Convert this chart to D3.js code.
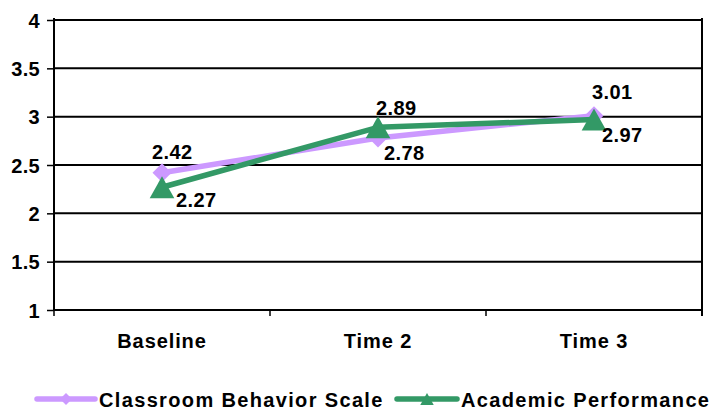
<!DOCTYPE html>
<html>
<head>
<meta charset="utf-8">
<script src="https://cdn.jsdelivr.net/npm/d3@7"></script>
<style>
  html, body { margin: 0; padding: 0; background: #fff; }
  svg { display: block; }
  text { font-family: "Liberation Sans", Arial, sans-serif; font-weight: bold; fill: #000; }
</style>
</head>
<body>
<svg id="chart" width="714" height="411"></svg>
<script>
// Survey waves and mean scores
const categories = ["Baseline", "Time 2", "Time 3"];
const behaviorScale = [2.42, 2.78, 3.01];
const academicPerformance = [2.27, 2.89, 2.97];
const yTicks = [1, 1.5, 2, 2.5, 3, 3.5, 4];
const seriesNames = ["Classroom Behavior Scale", "Academic Performance"];

const svg = d3.select("#chart");
const plotLeft = 54, plotRight = 702, plotTop = 20, plotBottom = 310;

const x = d3.scaleBand().domain(categories).range([plotLeft, plotRight]).padding(0);
const y = d3.scaleLinear().domain([1, 4]).range([plotBottom, plotTop]);
const cx = c => x(c) + x.bandwidth() / 2;

// Horizontal gridlines
svg.append("g").selectAll("line").data(yTicks).join("line")
  .attr("x1", plotLeft).attr("x2", plotRight)
  .attr("y1", d => y(d)).attr("y2", d => y(d))
  .attr("stroke", "#000").attr("stroke-width", 2);

// Left value axis
const yAxis = svg.append("g").attr("transform", `translate(${plotLeft},0)`)
  .call(d3.axisLeft(y).tickValues(yTicks).tickSize(7).tickPadding(7).tickFormat(d3.format("")));
yAxis.select(".domain").attr("stroke", "#000").attr("stroke-width", 2)
  .attr("d", `M0,${plotTop - 2}V${plotBottom + 1}`);
yAxis.selectAll(".tick line").attr("stroke", "#000").attr("stroke-width", 1.5);
yAxis.selectAll(".tick text").attr("font-size", 20).attr("letter-spacing", 0.3)
  .attr("dy", "0.36em").attr("font-family", "Liberation Sans, Arial, sans-serif")
  .attr("font-weight", "bold").attr("fill", "#000");

// Right frame edge
svg.append("line").attr("x1", plotRight).attr("x2", plotRight)
  .attr("y1", plotTop - 2).attr("y2", plotBottom + 6)
  .attr("stroke", "#000").attr("stroke-width", 2);

// Category axis: ticks at band boundaries, labels at band centres
const xAxis = svg.append("g").attr("transform", `translate(0,${plotBottom})`);
xAxis.append("line").attr("x1", plotLeft).attr("x2", plotRight).attr("y1", 0).attr("y2", 0)
  .attr("stroke", "#000").attr("stroke-width", 2);
const bounds = categories.map(c => x(c)).concat([x(categories[categories.length - 1]) + x.bandwidth()]);
xAxis.selectAll("line.tk").data(bounds).join("line").attr("class", "tk")
  .attr("x1", d => d).attr("x2", d => d).attr("y1", 0).attr("y2", 6)
  .attr("stroke", "#000").attr("stroke-width", 1.5);
xAxis.selectAll("text").data(categories).join("text")
  .attr("x", d => cx(d)).attr("y", 38)
  .attr("text-anchor", "middle").attr("font-size", 20).attr("letter-spacing", 0.9)
  .text(d => d);

const colors = ["#CC99FF", "#339966"];
const diamond = s => `M0,${-s}L${s},0L0,${s}L${-s},0Z`;
const triangle = s => `M0,${-s}L${s * 1.12},${s}L${-s * 1.12},${s}Z`;

const series = [
  { name: seriesNames[0], values: behaviorScale },
  { name: seriesNames[1], values: academicPerformance }
];

const line = d3.line().x((d, i) => cx(categories[i])).y(d => y(d));

// Each series: line first, then its markers on top
series.forEach((s, si) => {
  const g = svg.append("g");
  g.append("path").datum(s.values)
    .attr("d", line).attr("fill", "none")
    .attr("stroke", colors[si]).attr("stroke-width", 5.5)
    .attr("stroke-linejoin", "round");
  g.selectAll("path.mk").data(s.values).join("path").attr("class", "mk")
    .attr("transform", (d, i) => `translate(${cx(categories[i])},${y(d)})`)
    .attr("d", si === 0 ? diamond(9.5) : triangle(11))
    .attr("fill", colors[si]);
});

// Value labels, placed above or below each marker
const labelShift = [
  [[-10, -14], [6, 22], [-2, -17]],
  [[14, 20], [-2, -12], [8, 22]]
];
series.forEach((s, si) => {
  svg.append("g").selectAll("text").data(s.values).join("text")
    .attr("x", (d, i) => cx(categories[i]) + labelShift[si][i][0])
    .attr("y", (d, i) => y(d) + labelShift[si][i][1])
    .attr("font-size", 20).attr("letter-spacing", 0.4)
    .text(d => d3.format(".2f")(d));
});

// Legend
const legendItems = [
  { lineX: 37, textX: 99 },
  { lineX: 397, textX: 461 }
];
const legendY = 399;
series.forEach((s, si) => {
  const g = svg.append("g");
  const L = legendItems[si];
  g.append("line").attr("x1", L.lineX).attr("x2", L.textX - 4)
    .attr("y1", legendY).attr("y2", legendY)
    .attr("stroke", colors[si]).attr("stroke-width", 5.5).attr("stroke-linecap", "round");
  g.append("path").attr("transform", `translate(${(L.lineX + L.textX - 4) / 2},${legendY})`)
    .attr("d", si === 0 ? diamond(6) : triangle(6)).attr("fill", colors[si]);
  g.append("text").attr("x", L.textX).attr("y", legendY + 8)
    .attr("font-size", 20).attr("letter-spacing", 1.35)
    .text(s.name);
});
</script>
</body>
</html>
